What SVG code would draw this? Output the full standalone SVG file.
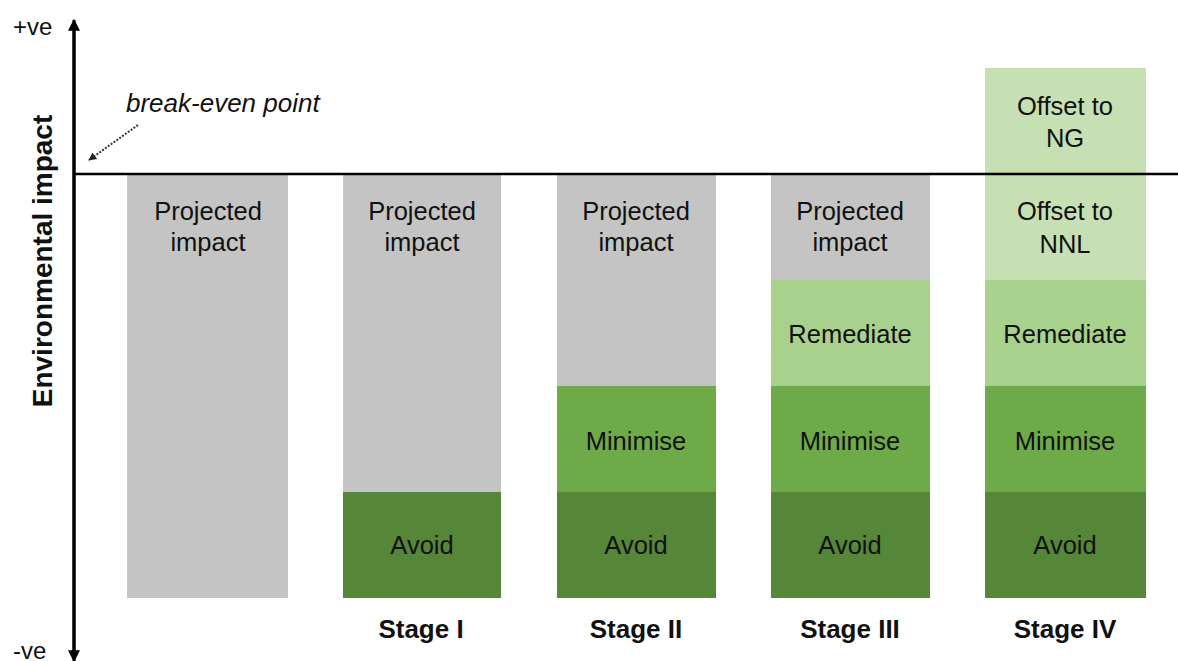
<svg xmlns="http://www.w3.org/2000/svg" width="1178" height="661" viewBox="0 0 1178 661">
<style>
text{font-family:"Liberation Sans",Arial,sans-serif;fill:#111}
.lbl{font-size:25.5px;text-anchor:middle}
.stg{font-size:26px;font-weight:bold;text-anchor:middle}
.gray{fill:#c4c4c4}
.avoid{fill:#568637}
.min{fill:#6eab48}
.rem{fill:#a9d18e}
.off{fill:#c6e0b4}
</style>
<defs>
<marker id="ah" viewBox="0 0 10 10" refX="9" refY="5" markerWidth="4" markerHeight="4" orient="auto"><path d="M0,0L10,5L0,10z" fill="#000"/></marker>
<marker id="ahs" viewBox="0 0 10 10" refX="9" refY="5" markerWidth="4" markerHeight="4" orient="auto"><path d="M0,0L10,5L0,10z" fill="#222"/></marker>
</defs>
<rect width="1178" height="661" fill="#fff"/>

<g id="stage0">
<rect class="gray" x="127" y="175" width="161" height="423"/>
<text class="lbl" x="208" y="220">Projected</text>
<text class="lbl" x="208" y="251">impact</text>
</g>

<g id="stage1">
<rect class="gray" x="343" y="175" width="158" height="317"/>
<rect class="avoid" x="343" y="492" width="158" height="106"/>
<text class="lbl" x="422" y="220">Projected</text>
<text class="lbl" x="422" y="251">impact</text>
<text class="lbl" x="422" y="554">Avoid</text>
<text class="stg" x="421" y="638">Stage I</text>
</g>

<g id="stage2">
<rect class="gray" x="557" y="175" width="159" height="211"/>
<rect class="min" x="557" y="386" width="159" height="106"/>
<rect class="avoid" x="557" y="492" width="159" height="106"/>
<text class="lbl" x="636" y="220">Projected</text>
<text class="lbl" x="636" y="251">impact</text>
<text class="lbl" x="636" y="450">Minimise</text>
<text class="lbl" x="636" y="554">Avoid</text>
<text class="stg" x="636" y="638">Stage II</text>
</g>

<g id="stage3">
<rect class="gray" x="771" y="175" width="159" height="105"/>
<rect class="rem" x="771" y="280" width="159" height="106"/>
<rect class="min" x="771" y="386" width="159" height="106"/>
<rect class="avoid" x="771" y="492" width="159" height="106"/>
<text class="lbl" x="850" y="220">Projected</text>
<text class="lbl" x="850" y="251">impact</text>
<text class="lbl" x="850" y="343">Remediate</text>
<text class="lbl" x="850" y="450">Minimise</text>
<text class="lbl" x="850" y="554">Avoid</text>
<text class="stg" x="850" y="638">Stage III</text>
</g>

<g id="stage4">
<rect class="off" x="985" y="68" width="161" height="212"/>
<rect class="rem" x="985" y="280" width="161" height="106"/>
<rect class="min" x="985" y="386" width="161" height="106"/>
<rect class="avoid" x="985" y="492" width="161" height="106"/>
<text class="lbl" x="1065" y="115">Offset to</text>
<text class="lbl" x="1065" y="147">NG</text>
<text class="lbl" x="1065" y="220">Offset to</text>
<text class="lbl" x="1065" y="253">NNL</text>
<text class="lbl" x="1065" y="343">Remediate</text>
<text class="lbl" x="1065" y="450">Minimise</text>
<text class="lbl" x="1065" y="554">Avoid</text>
<text class="stg" x="1065" y="638">Stage IV</text>
</g>

<g id="connectors">
<line x1="74" y1="174" x2="1178" y2="174" stroke="#000" stroke-width="2.5"/>
<line x1="74" y1="655" x2="74" y2="20" stroke="#000" stroke-width="3" marker-end="url(#ah)"/>
<line x1="74" y1="30" x2="74" y2="661" stroke="#000" stroke-width="3" marker-end="url(#ah)"/>
<line x1="138" y1="125" x2="89" y2="160" stroke="#333" stroke-width="2" stroke-dasharray="2,1.5" marker-end="url(#ahs)"/>
</g>

<g id="axis-labels">
<text x="13" y="35" font-size="24">+ve</text>
<text x="13" y="659" font-size="24">-ve</text>
<text x="126" y="112" font-size="26" font-style="italic">break-even point</text>
<text transform="translate(52,261) rotate(-90)" font-size="28" font-weight="bold" text-anchor="middle">Environmental impact</text>
</g>
</svg>
